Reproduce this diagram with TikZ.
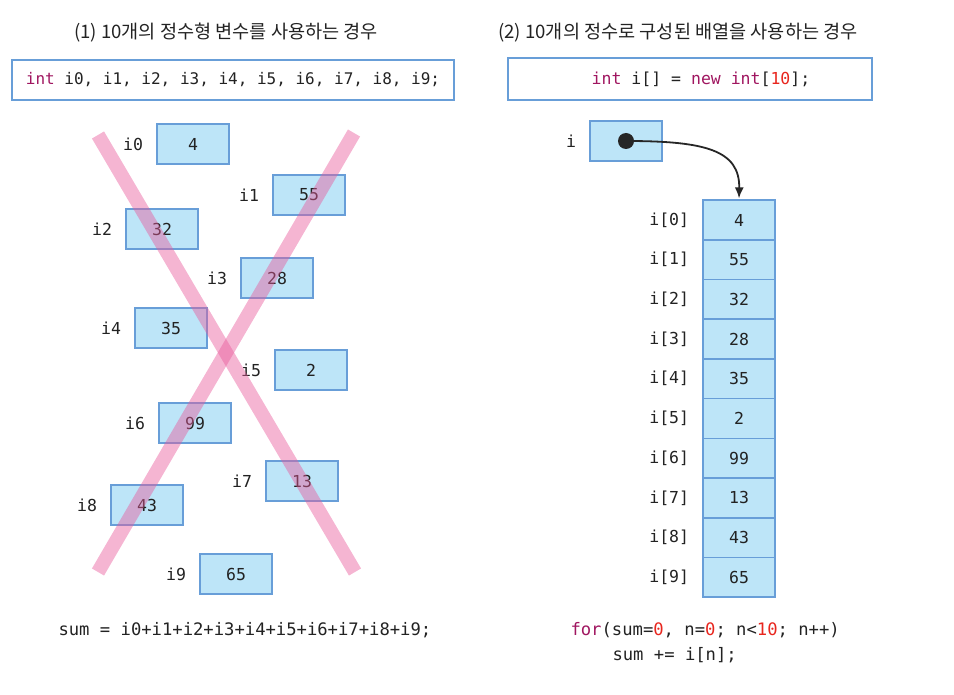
\documentclass[tikz,border=0pt]{standalone}
\usepackage{fontspec}
\usepackage{xcolor}
\usepackage{tikz}
\usetikzlibrary{positioning,arrows.meta}
\setmonofont{DejaVu Sans Mono}
\newfontfamily\kr{Noto Sans CJK KR}
\definecolor{cellfill}{RGB}{189,229,248}
\definecolor{cellline}{RGB}{104,158,216}
\definecolor{kwcol}{RGB}{160,22,96}
\definecolor{numcol}{RGB}{232,38,30}
\definecolor{txtcol}{RGB}{34,34,34}
\definecolor{crosscol}{RGB}{232,90,155}
\newcommand{\kw}[1]{\textcolor{kwcol}{#1}}
\newcommand{\nm}[1]{\textcolor{numcol}{#1}}

\begin{document}
\begin{tikzpicture}[x=1pt, y=-1pt, every node/.style={text=txtcol, font=\ttfamily\fontsize{16.5}{20}\selectfont},
        cell/.style={draw=cellline, fill=cellfill, line width=1.5pt, minimum width=72pt, minimum height=40pt, inner sep=0pt},
        lbl/.style={inner sep=2pt},
        codebox/.style={draw=cellline, line width=1.5pt, minimum height=40pt, inner sep=0pt},
        bigcode/.style={font=\ttfamily\fontsize{17.2}{20}\selectfont},
        title/.style={font=\kr\fontsize{18.6}{22}\selectfont},
        cross/.style={draw=crosscol, opacity=.45, line width=14pt}]
    \useasboundingbox (0,0) rectangle (954,695);
    % left: ten separate variables
    \node[title] (t1) at (226,33) {(1) 10개의 정수형 변수를 사용하는 경우};
    \node[codebox, minimum width=442pt, font=\ttfamily\fontsize{16}{20}\selectfont] (c1) at (233,80) {\kw{int} i0, i1, i2, i3, i4, i5, i6, i7, i8, i9;};
    \node[cell] (v0) at (193,144) {4};
    \node[cell] (v1) at (309,195) {55};
    \node[cell] (v2) at (162,229) {32};
    \node[cell] (v3) at (277,278) {28};
    \node[cell] (v4) at (171,328) {35};
    \node[cell] (v5) at (311,370) {2};
    \node[cell] (v6) at (195,423) {99};
    \node[cell] (v7) at (302,481) {13};
    \node[cell] (v8) at (147,505) {43};
    \node[cell] (v9) at (236,574) {65};
    \foreach \k in {0,...,9}
        \node[lbl, left=11pt of v\k] (n\k) {i\k};
    \draw[cross] (98,135) -- (355,572);
    \draw[cross] (354,133) -- (98,572);
    \node[bigcode, anchor=west] (s1) at (55,630) {sum = i0+i1+i2+i3+i4+i5+i6+i7+i8+i9;};
    % right: one array
    \node[title] (t2) at (678,33) {(2) 10개의 정수로 구성된 배열을 사용하는 경우};
    \node[codebox, minimum width=364pt, minimum height=42pt] (c2) at (690,79) {\hspace*{22pt}\kw{int} i[] = \kw{new} \kw{int}[\nm{10}];};
    \node[cell] (p) at (626,141) {};
    \node[lbl, left=11pt of p] (pl) {i};
    \node[circle, fill=black!85, minimum size=16pt, inner sep=0pt] (dot) at (p.center) {};
    \foreach \v [count=\k from 0] in {4,55,32,28,35,2,99,13,43,65} {
        \node[cell, minimum height=39.7pt] (a\k) at (739,{220+39.7*\k}) {\v};
        \node[lbl, left=11pt of a\k] (al\k) {i[\k]};
    }
    \draw[-{Latex[length=11pt,width=9pt]}, line width=1.8pt, black!85, shorten >=1pt] (dot.center) .. controls (705,141) and (740,150) .. (a0.north);
    \node[bigcode, anchor=west] (f1) at (567,630) {\kw{for}(sum=\nm{0}, n=\nm{0}; n<\nm{10}; n++)};
    \node[bigcode, anchor=west] (f2) at (609,655) {sum += i[n];};
\end{tikzpicture}
\end{document}
